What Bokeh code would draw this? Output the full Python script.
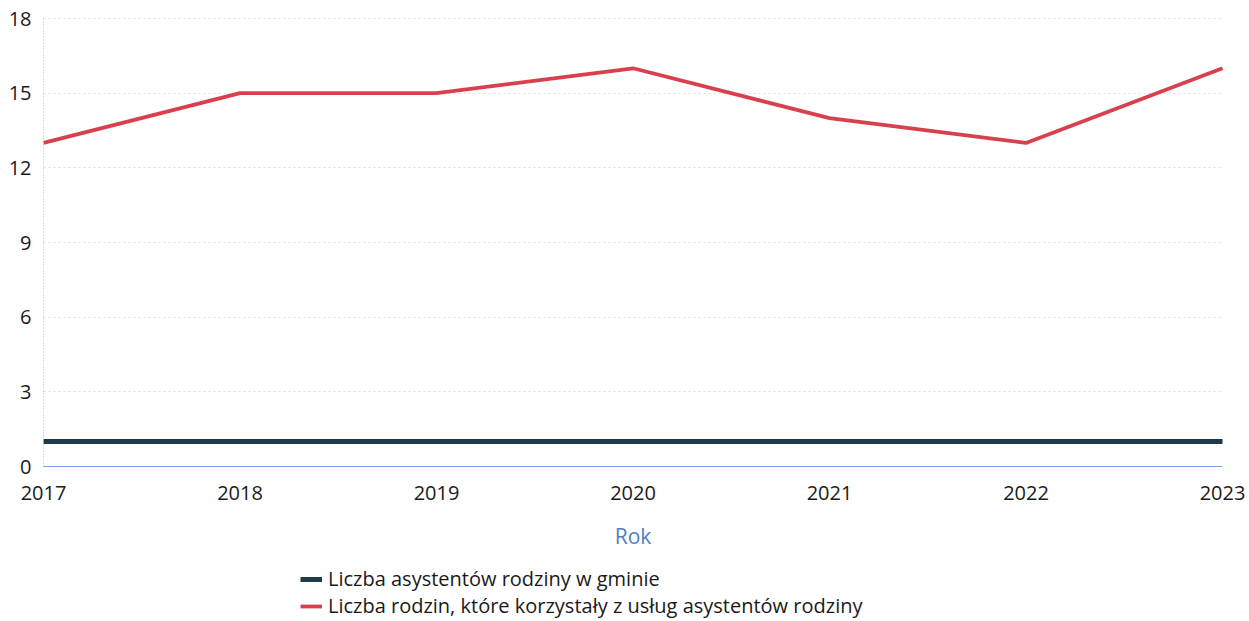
from bokeh.plotting import figure
from bokeh.models import Range1d, FixedTicker, Legend, LegendItem, Grid
from bokeh.embed import file_html
from bokeh.resources import INLINE

years = [2017, 2018, 2019, 2020, 2021, 2022, 2023]
asystenci = [1, 1, 1, 1, 1, 1, 1]
rodziny = [13, 15, 15, 16, 14, 13, 16]
y_ticks = [0, 3, 6, 9, 12, 15, 18]

FONT = "Open Sans"

# layout (pixels)
W, H = 1249, 621
X_LEFT_PX, X_RIGHT_PX = 43, 1222     # pixel of first / last year
Y_TOP_PX, Y_ZERO_PX = 18, 466        # pixel of top tick / zero
x0, x1 = years[0], years[-1]
y1 = y_ticks[-1]
ux = (x1 - x0) / (X_RIGHT_PX - X_LEFT_PX)
uy = y1 / (Y_ZERO_PX - Y_TOP_PX)

p = figure(width=W, height=H, output_backend="svg", toolbar_location=None,
           x_range=Range1d(x0 - X_LEFT_PX * ux, x1 + (W - X_RIGHT_PX) * ux),
           y_range=Range1d(-(H - Y_ZERO_PX) * uy, y1 + Y_TOP_PX * uy),
           min_border_left=0, min_border_right=0, min_border_top=0, min_border_bottom=0)
p.outline_line_color = None
p.background_fill_color = "white"

r1 = p.line(years, asystenci, line_color="#1d3a4c", line_width=5)
r2 = p.line(years, rodziny, line_color="#d8404e", line_width=3.8)

p.xaxis.ticker = FixedTicker(ticks=years)
p.yaxis.ticker = FixedTicker(ticks=y_ticks)
for ax in (p.xaxis, p.yaxis):
    ax.major_tick_line_color = None
    ax.minor_tick_line_color = None
    ax.major_tick_out = 0
    ax.major_tick_in = 0
    ax.major_label_text_font = FONT
    ax.major_label_text_font_size = "20px"
    ax.major_label_text_color = "#1a1a1a"

p.xaxis.fixed_location = 0
p.xaxis.bounds = (x0, x1)
p.xaxis.axis_line_color = "#7aa3d8"
p.xaxis.axis_line_width = 1.2
p.xaxis.major_label_standoff = 19
p.xaxis.axis_label = "Rok"
p.xaxis.axis_label_text_font = FONT
p.xaxis.axis_label_text_font_style = "normal"
p.xaxis.axis_label_text_font_size = "21px"
p.xaxis.axis_label_text_color = "#4f7fc4"
p.xaxis.axis_label_standoff = 19

p.yaxis.fixed_location = x0
p.yaxis.bounds = (0, y1)
p.yaxis.axis_line_color = "#a9bede"
p.yaxis.axis_line_dash = "1 2"
p.yaxis.axis_line_width = 1
p.yaxis.major_label_standoff = 12

p.xgrid.grid_line_color = None
p.ygrid.grid_line_color = "#dcdcdc"
p.ygrid.grid_line_dash = "2 3"
p.ygrid.grid_line_width = 1
if "cross_bounds" in Grid.properties():
    p.ygrid.cross_bounds = (x0, x1)

legend = Legend(items=[
    LegendItem(label="Liczba asystentów rodziny w gminie", renderers=[r1]),
    LegendItem(label="Liczba rodzin, które korzystały z usług asystentów rodziny", renderers=[r2]),
], location=(300, 2), orientation="vertical")
legend.border_line_color = None
legend.background_fill_alpha = 0
legend.padding = 0
legend.margin = 0
legend.spacing = -4
legend.label_height = 22
legend.glyph_height = 22
legend.glyph_width = 22
legend.label_standoff = 6
legend.label_text_font = FONT
legend.label_text_font_size = "20px"
legend.label_text_color = "#1a1a1a"
p.add_layout(legend, "center")

open("out.html", "w").write(file_html(p, INLINE))
